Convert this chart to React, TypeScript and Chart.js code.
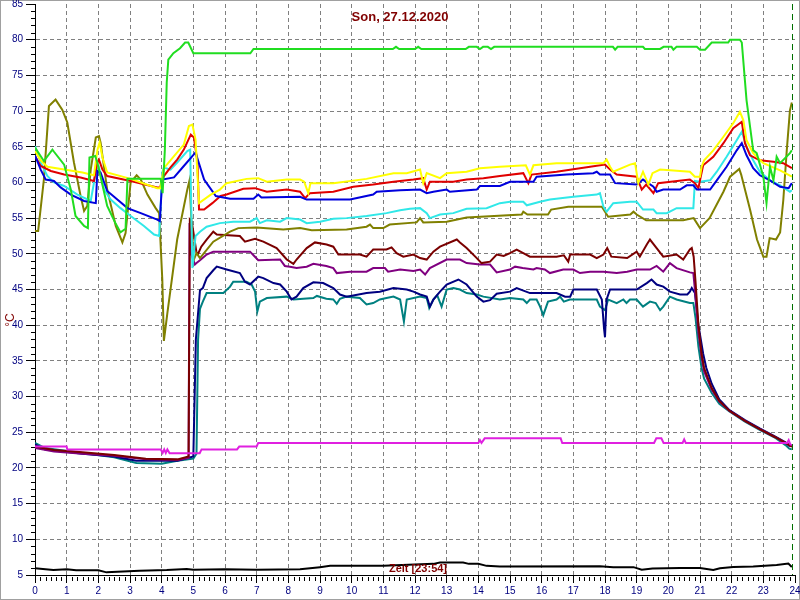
import React, { useEffect, useRef } from 'react';
import { Chart, registerables } from 'chart.js';

Chart.register(...registerables);

type Series = [number, number][];

const chartTitle = 'Son, 27.12.2020';
const xAxisLabel = 'Zeit [23:54]';
const yAxisLabel = '°C';
const nowHour = 23.9;

const xTickValues = [0, 1, 2, 3, 4, 5, 6, 7, 8, 9, 10, 11, 12, 13, 14, 15, 16, 17, 18, 19, 20, 21, 22, 23, 24];
const yTickValues = [5, 10, 15, 20, 25, 30, 35, 40, 45, 50, 55, 60, 65, 70, 75, 80, 85];

const greenSeries: Series = [
  [0, 64.9], [0.28, 63], [0.55, 64.6], [0.6, 64.3], [0.92, 62.5], [1.13, 59], [1.28, 55.3], [1.55, 53.9], [1.67, 53.6],
  [1.72, 63.5], [1.9, 63.7], [1.97, 62.8], [2.28, 56.7], [2.55, 54.2], [2.7, 53], [2.86, 53.5], [2.92, 60.5], [3.97, 60.5],
  [4.03, 58.5], [4.1, 64.5], [4.16, 74], [4.21, 77.2], [4.37, 78.1], [4.58, 78.8], [4.74, 79.6], [4.84, 79.6], [5.0, 78.1],
  [6.8, 78.1], [6.9, 78.7], [11.3, 78.7], [11.4, 79.0], [11.5, 78.7], [12.0, 78.7], [12.1, 79.0], [12.2, 78.7], [13.6, 78.7],
  [13.7, 79.0], [13.95, 79.0], [14.05, 78.7], [14.15, 79.0], [14.3, 79.0], [14.4, 78.7], [14.5, 79.0], [18.25, 79.0],
  [18.32, 78.6], [18.4, 79.0], [19.2, 79.0], [19.26, 78.7], [19.74, 78.7], [19.85, 79.0], [20.1, 79.0], [20.16, 78.6],
  [20.26, 79.0], [20.9, 79.0], [21.0, 78.6], [21.16, 78.6], [21.37, 79.6], [21.89, 79.6], [21.95, 80.0], [22.26, 80.0],
  [22.32, 79.6], [22.47, 71.5], [22.68, 64.5], [22.79, 64.1], [23.0, 60.8], [23.1, 57.1], [23.21, 62.2], [23.32, 60.3],
  [23.42, 63.6], [23.53, 62.7], [23.84, 64.1], [23.9, 64.5],
];

const oliveSeries: Series = [
  [0, 53.2], [0.1, 53.2], [0.28, 60.4], [0.44, 70.7], [0.65, 71.6], [0.86, 70.2], [1.02, 68.4], [1.23, 62.8], [1.44, 58.1],
  [1.55, 56], [1.65, 56.7], [1.76, 61.8], [1.92, 66.3], [2.02, 66.5], [2.07, 65.6], [2.28, 59], [2.55, 53.9], [2.76, 51.6],
  [2.86, 52.9], [3.02, 60], [3.21, 61], [3.34, 60.4], [3.55, 58.3], [3.81, 56.4], [3.92, 55.7], [4.02, 46.4], [4.07, 37.8],
  [4.18, 41.7], [4.49, 52], [4.81, 59], [4.88, 60.3], [5.0, 49], [5.1, 50.1], [5.21, 49.4], [5.63, 51.7], [6.16, 53.1],
  [6.42, 53.6], [7.0, 53.7], [7.84, 53.4], [8.37, 53.6], [8.74, 53.3], [9.84, 53.4], [10.47, 53.8], [10.58, 54.1],
  [10.68, 53.6], [11.0, 53.6], [11.2, 54.1], [12.05, 54.4], [12.16, 55], [12.26, 54.4], [13.0, 54.5], [13.63, 55.1],
  [15.37, 55.5], [15.42, 55.9], [15.55, 55.5], [16.2, 55.5], [16.3, 56.2], [16.84, 56.6], [17.9, 56.6], [18.1, 55.2],
  [18.8, 55.5], [18.9, 55.9], [19.0, 55.5], [19.3, 54.7], [20.47, 54.7], [20.8, 55], [21.0, 53.6], [21.3, 55], [21.74, 58.7],
  [21.95, 60.8], [22.24, 61.9], [22.3, 61.1], [22.58, 56.2], [22.8, 52], [23.0, 49.6], [23.1, 49.6], [23.2, 52.2],
  [23.4, 52], [23.53, 53], [23.63, 57.5], [23.74, 64.5], [23.84, 70.1], [23.9, 71.2],
];

const yellowSeries: Series = [
  [0, 64.4], [0.18, 63.1], [0.39, 62.2], [0.92, 61.8], [1.5, 61.4], [1.86, 61.0], [1.97, 64.5], [2.04, 65.6], [2.13, 63.5],
  [2.28, 61.4], [3.02, 60.5], [3.86, 59.2], [3.95, 59.2], [4.07, 62], [4.39, 63.7], [4.7, 65.3], [4.86, 67.9], [4.97, 68.1],
  [5.07, 66], [5.18, 57.1], [5.55, 58.3], [5.84, 59], [6.05, 59.9], [6.68, 60.5], [7.05, 60.6], [7.32, 60.1], [7.95, 60.4],
  [8.37, 60.4], [8.5, 60.1], [8.63, 58.5], [8.7, 59.9], [9.42, 59.9], [10.47, 60.5], [11.32, 61.3], [11.74, 61.3],
  [12.16, 61.8], [12.26, 59.9], [12.37, 61.3], [12.79, 60.6], [13.0, 61.3], [13.63, 61.5], [14.05, 62], [14.68, 62.2],
  [15.5, 62.4], [15.63, 61.1], [15.74, 62.4], [16.47, 62.7], [17.95, 62.7], [18.05, 63.2], [18.16, 62.2], [18.26, 61.5],
  [18.79, 62.5], [18.95, 62.7], [19.05, 59.9], [19.2, 61.5], [19.37, 59.7], [19.5, 61.3], [19.74, 61.8], [20.68, 61.5],
  [20.84, 60.8], [21.0, 60.8], [21.05, 62.2], [21.13, 63.1], [21.42, 64.5], [21.74, 66.4], [22.05, 68.3], [22.26, 69.9],
  [22.37, 68.7], [22.47, 65.9], [22.68, 64.1], [23.0, 62.7], [23.53, 61.7], [23.9, 60.8],
];

const redSeries: Series = [
  [0, 63.7], [0.18, 62.3], [0.5, 61.6], [0.92, 61.1], [1.44, 60.7], [1.86, 60.2], [1.97, 62.8], [2.02, 63.2], [2.13, 61.8],
  [2.28, 60.9], [3.02, 60.2], [3.86, 59.3], [3.95, 59.3], [4.07, 60.9], [4.28, 62.1], [4.49, 63.2], [4.7, 64.6], [4.92, 66.7],
  [5.02, 66.3], [5.13, 62.8], [5.18, 56.2], [5.34, 56.2], [5.6, 57.1], [5.86, 58.1], [6.05, 58.3], [6.58, 59.1], [6.95, 59.2],
  [7.32, 58.7], [7.95, 59], [8.37, 58.7], [8.53, 57.8], [8.68, 58.5], [9.42, 58.7], [10.05, 59.4], [10.68, 59.7],
  [11.32, 60.1], [11.95, 60.4], [12.26, 60.6], [12.37, 59], [12.47, 60.1], [13.21, 60.1], [13.63, 60.4], [14.16, 60.6],
  [14.68, 60.9], [15.42, 61.3], [15.58, 59.9], [15.68, 61.1], [16.47, 61.5], [17.53, 62.2], [18.0, 62.5], [18.16, 61.8],
  [18.37, 61.1], [19.0, 60.8], [19.16, 59], [19.3, 59.7], [19.53, 58.5], [19.68, 59.9], [20.68, 60.4], [20.84, 59.9],
  [20.95, 59.2], [21.0, 60.3], [21.1, 62.4], [21.42, 63.6], [21.74, 65.5], [22.05, 67.6], [22.32, 68.5], [22.42, 65.5],
  [22.58, 63.8], [22.89, 63.1], [23.32, 62.9], [23.63, 62.7], [23.9, 62.0],
];

const blueSeries: Series = [
  [0, 63.8], [0.18, 61.8], [0.34, 60.4], [0.6, 60.2], [0.81, 59.3], [1.13, 58.3], [1.55, 57.4], [1.92, 57.1], [1.97, 61.6],
  [2.07, 61.4], [2.28, 58.8], [2.6, 57.6], [2.92, 56.4], [3.34, 55.7], [3.86, 54.8], [3.94, 54.6], [4.02, 60.4], [4.39, 60.7],
  [4.7, 62.3], [5.07, 64.2], [5.34, 60.4], [5.71, 58.1], [6.16, 57.7], [6.9, 57.7], [7.05, 58.3], [7.15, 57.9], [8.37, 58],
  [8.58, 57.6], [9.95, 57.6], [10.68, 58.3], [10.79, 58.7], [11.53, 58.9], [12.16, 59], [12.37, 58.5], [12.58, 58.7],
  [13.0, 59], [13.1, 58.7], [13.95, 59], [14.05, 59.5], [14.68, 59.5], [15.0, 60.1], [15.74, 60.1], [15.84, 60.8],
  [16.79, 61.1], [17.63, 61.3], [17.74, 61.5], [17.84, 61.1], [18.16, 61.1], [18.32, 59.9], [19.0, 59.7], [19.2, 60.4],
  [19.53, 59.4], [19.63, 58.7], [19.84, 59], [20.37, 59], [20.58, 59.6], [20.79, 59.6], [20.9, 59], [21.32, 59],
  [21.53, 60.3], [21.84, 62.2], [22.16, 64.5], [22.32, 65.5], [22.47, 63.8], [22.68, 62], [22.89, 61], [23.21, 60.3],
  [23.53, 59.4], [23.8, 59.2], [23.9, 59.9],
];

const cyanSeries: Series = [
  [0, 65.1], [0.18, 62.8], [0.39, 60.9], [0.6, 60], [0.92, 59.5], [1.34, 58.3], [1.76, 57.4], [1.92, 61.4], [2.02, 62.1],
  [2.18, 59], [2.39, 57.6], [2.7, 56.4], [3.02, 55.3], [3.44, 53.9], [3.76, 52.7], [3.92, 52.5], [4.02, 61.4], [4.07, 62.1],
  [4.28, 61.8], [4.49, 62.8], [4.81, 64.4], [4.9, 64.6], [4.97, 48], [5.07, 52.5], [5.21, 53.1], [5.42, 53.8], [5.84, 54.3],
  [6.26, 54.5], [6.79, 54.5], [7.0, 55], [7.1, 54.3], [7.32, 54.7], [7.74, 54.5], [7.95, 55], [8.37, 54.8], [8.58, 54.3],
  [9.0, 54.5], [9.42, 54.9], [9.84, 55], [10.47, 55.3], [11.1, 55.7], [11.53, 56.1], [11.84, 56.3], [12.16, 56.4],
  [12.37, 55.7], [12.47, 55], [12.79, 55.5], [13.21, 55.7], [13.63, 56.3], [14.26, 56.4], [14.68, 57.1], [15.0, 57.3],
  [15.42, 57.3], [15.53, 56.8], [15.95, 57.3], [16.26, 57.6], [17.0, 58], [17.74, 58.3], [17.84, 58.5], [17.95, 56.6],
  [18.05, 55.9], [18.26, 57.1], [18.79, 57.3], [19.0, 57.3], [19.2, 56.2], [19.53, 56.2], [19.63, 55.7], [19.95, 55.7],
  [20.26, 56.4], [20.79, 56.4], [20.84, 60.2], [21.0, 60.1], [21.32, 60.3], [21.53, 61.5], [21.84, 63.6], [22.16, 65.9],
  [22.32, 67.1], [22.47, 65.0], [22.68, 63.1], [22.89, 61.5], [23.21, 60.3], [23.53, 59.6], [23.84, 58.7], [23.9, 58.9],
];

const maroonSeries: Series = [
  [0, 23.0], [0.6, 22.5], [1.5, 22.2], [2.5, 21.8], [3.5, 21.3], [4.5, 21.2], [4.85, 21.6], [4.89, 54.8], [4.95, 54.5],
  [5.1, 50.2], [5.15, 50.0], [5.25, 51], [5.42, 52], [5.63, 53.1], [5.74, 52.7], [6.47, 52.5], [6.63, 51.7], [6.95, 52.1],
  [7.21, 51.7], [7.63, 50.8], [7.95, 49.2], [8.16, 48.6], [8.26, 49.2], [8.58, 50.8], [8.84, 51.6], [9.21, 51.3], [9.42, 51],
  [9.58, 49.9], [10.26, 49.9], [10.47, 49.6], [10.68, 50.6], [11.1, 50.6], [11.26, 50.9], [11.42, 50.1], [11.63, 49.6],
  [11.95, 49.9], [12.16, 49.4], [12.37, 49.2], [12.58, 50.3], [12.79, 51], [13.32, 52], [13.42, 51.6], [13.63, 50.8],
  [13.95, 49.4], [14.1, 48.7], [14.37, 48.9], [14.58, 49.9], [14.8, 49.7], [15.0, 50.1], [15.21, 50.6], [15.42, 50.1],
  [15.63, 49.6], [16.47, 49.6], [16.7, 49.8], [16.84, 48.9], [16.9, 49.9], [17.53, 49.9], [17.74, 49.4], [17.95, 49.9],
  [18.07, 50.8], [18.2, 49.6], [18.7, 49.4], [19.0, 50.3], [19.1, 49.6], [19.32, 51.3], [19.42, 52], [19.63, 50.8],
  [19.84, 49.6], [20.26, 49.9], [20.47, 49.2], [20.68, 50.6], [20.74, 50.8], [20.8, 49.6], [20.86, 46], [20.95, 40],
  [21.05, 36], [21.13, 34], [21.37, 31.2], [21.61, 29.4], [21.93, 28], [22.42, 26.6], [22.9, 25.4], [23.38, 24.3],
  [23.7, 23.5], [23.9, 23.0],
];

const purpleSeries: Series = [
  [0, 22.8], [0.6, 22.3], [1.5, 22.0], [2.5, 21.7], [3.5, 21.2], [4.5, 21.1], [4.85, 21.4], [4.88, 54.3], [4.93, 50],
  [5.05, 48.5], [5.1, 48.7], [5.21, 49.1], [5.42, 49.9], [5.63, 50.3], [6.79, 50.3], [6.9, 49.8], [7.05, 49.1], [7.74, 49.2],
  [7.89, 48.3], [8.05, 48.2], [8.26, 48], [8.58, 48.2], [8.79, 48.6], [9.2, 48.3], [9.42, 48], [9.53, 47.3], [9.95, 47.5],
  [10.47, 47.5], [10.68, 48], [11.05, 48], [11.15, 47.5], [11.53, 47.8], [11.95, 47.6], [12.16, 47.8], [12.32, 47.1],
  [12.47, 48], [13.0, 49.2], [13.42, 49.2], [13.63, 48.7], [14.05, 48.5], [14.37, 48.5], [14.58, 47.4], [15.0, 47.8],
  [15.16, 48.2], [15.4, 48], [15.74, 47.8], [15.84, 48], [16.1, 47.8], [16.26, 47.3], [16.68, 47.8], [17.0, 47.8],
  [17.21, 47.3], [17.53, 47.5], [17.95, 47.5], [18.37, 47.3], [18.7, 47.5], [19.0, 47.8], [19.42, 47.8], [19.63, 48.3],
  [19.84, 47.5], [20.05, 48.7], [20.26, 48], [20.68, 47.4], [20.79, 47.3], [20.86, 44], [20.95, 39], [21.05, 35.5],
  [21.13, 33.5], [21.37, 31], [21.61, 29.3], [21.93, 28], [22.42, 26.6], [22.9, 25.4], [23.38, 24.3], [23.7, 23.5],
  [23.9, 23.0],
];

const navySeries: Series = [
  [0, 23.3], [0.3, 22.6], [1.5, 22.0], [2.5, 21.6], [3.2, 21.0], [4.5, 21.0], [5.0, 21.6], [5.08, 38], [5.21, 44.9],
  [5.3, 45.2], [5.42, 46.6], [5.63, 47.7], [5.74, 48.2], [6.05, 47.8], [6.47, 47.3], [6.63, 46.1], [6.79, 45.7],
  [7.05, 46.8], [7.21, 46.6], [7.53, 45.9], [7.74, 45.7], [7.95, 44.7], [8.1, 43.6], [8.26, 44], [8.47, 45.2], [8.79, 46],
  [9.1, 45.9], [9.42, 45.2], [9.63, 44.3], [9.84, 44], [10.47, 44.5], [10.89, 44.7], [11.32, 45.2], [11.74, 45],
  [11.95, 44.7], [12.16, 44.3], [12.37, 44], [12.47, 42.6], [12.58, 43.6], [12.79, 44.7], [13.0, 45.7], [13.37, 46.4],
  [13.63, 45.7], [13.95, 44], [14.16, 43.3], [14.37, 43.5], [14.58, 44.4], [15.0, 44.7], [15.21, 45.2], [15.63, 44.5],
  [16.47, 44.5], [16.74, 44], [16.9, 44], [17.0, 45], [17.74, 45], [17.9, 43.6], [17.97, 39.5], [18.0, 38.3], [18.05, 43.6],
  [18.16, 45], [19.0, 45], [19.32, 45.9], [19.47, 46.4], [19.63, 45.7], [19.84, 45.4], [20.05, 44.7], [20.37, 44.3],
  [20.6, 44.3], [20.68, 44.7], [20.74, 45.2], [20.84, 44.5], [20.95, 40], [21.1, 36], [21.2, 34], [21.37, 31.8],
  [21.61, 29.6], [21.93, 28.1], [22.42, 26.7], [22.9, 25.5], [23.38, 24.4], [23.7, 23.6], [23.82, 23.1], [23.9, 23.2],
];

const tealSeries: Series = [
  [0, 23.5], [0.3, 22.8], [1.5, 22.1], [2.5, 21.5], [3.2, 20.7], [4.0, 20.6], [4.5, 21.0], [5.0, 21.3], [5.1, 22],
  [5.15, 38], [5.21, 42.3], [5.3, 43.3], [5.42, 44.5], [5.95, 44.5], [6.16, 45.4], [6.26, 46.1], [6.68, 46.1], [6.84, 45.7],
  [6.95, 44.7], [7.02, 41.9], [7.1, 43.3], [7.32, 43.8], [7.95, 44], [8.16, 43.6], [8.79, 43.8], [8.9, 44.1], [9.2, 43.7],
  [9.42, 43.6], [9.53, 43], [9.63, 43.7], [9.84, 44], [10.26, 43.8], [10.47, 42.9], [10.68, 43.1], [10.89, 43.6],
  [11.1, 43.8], [11.32, 44], [11.53, 43.6], [11.65, 40.5], [11.74, 43.6], [12.16, 44], [12.37, 43.8], [12.45, 42.4],
  [12.58, 43.6], [12.7, 44.2], [12.84, 42.6], [13.0, 45], [13.21, 45.2], [13.42, 45], [13.63, 44.5], [13.95, 44.3],
  [14.16, 44], [14.68, 43.6], [15.0, 43.8], [15.42, 43.6], [15.53, 43.1], [15.63, 43.6], [15.84, 43.6], [15.95, 42.6],
  [16.05, 41.4], [16.2, 43.3], [16.47, 43.6], [16.58, 44], [16.7, 43.3], [16.89, 43.6], [17.74, 43.6], [17.84, 42.6],
  [18.0, 42.1], [18.1, 43.6], [18.37, 43.1], [18.58, 43.6], [18.68, 43.1], [18.79, 43.6], [19.0, 43.6], [19.2, 42.6],
  [19.42, 43.3], [19.6, 43.1], [19.74, 42.1], [19.84, 42.6], [20.05, 44], [20.26, 43.6], [20.68, 43.1], [20.79, 43.1],
  [20.86, 41], [20.95, 37], [21.05, 34], [21.13, 32.5], [21.37, 30.5], [21.61, 29.0], [21.93, 27.9], [22.42, 26.5],
  [22.9, 25.3], [23.38, 24.2], [23.7, 23.2], [23.82, 22.7], [23.9, 22.6],
];

const magentaSeries: Series = [
  [0, 23.0], [1.0, 23.0], [1.02, 22.6], [3.97, 22.6], [4.03, 22.1], [4.08, 22.6], [4.13, 22.1], [4.18, 22.6], [4.25, 22.05],
  [5.2, 22.05], [5.26, 22.6], [6.38, 22.6], [6.45, 23.0], [7.0, 23.0], [7.05, 23.5], [14.0, 23.5], [14.05, 23.9],
  [14.1, 23.5], [14.2, 24.15], [16.6, 24.15], [16.65, 23.5], [19.55, 23.5], [19.62, 24.15], [19.78, 24.15], [19.85, 23.5],
  [20.45, 23.5], [20.5, 24.0], [20.55, 23.5], [23.75, 23.5], [23.8, 23.9], [23.85, 23.3], [23.9, 23.2],
];

const blackSeries: Series = [
  [0, 5.93], [0.58, 5.7], [1.0, 5.8], [1.3, 5.65], [2.0, 5.65], [2.26, 5.37], [2.6, 5.45], [3.3, 5.6], [4.16, 5.7],
  [4.79, 5.85], [5.0, 5.75], [6.0, 5.8], [7.0, 5.75], [8.37, 5.8], [9.0, 6.1], [9.32, 6.28], [11.0, 6.28], [12.58, 6.56],
  [12.79, 6.74], [13.52, 6.74], [13.7, 6.56], [14.0, 6.56], [14.26, 6.28], [14.68, 6.18], [17.84, 6.23], [18.26, 6.1],
  [18.9, 6.1], [19.16, 5.75], [19.5, 5.9], [20.37, 5.98], [21.0, 5.98], [21.42, 5.7], [21.63, 5.95], [22.05, 6.13],
  [22.68, 6.2], [23.42, 6.4], [23.79, 6.6], [23.9, 6.13],
];

const seriesList: { data: Series; color: string }[] = [
  { data: blackSeries, color: '#000000' },
  { data: magentaSeries, color: '#e020e0' },
  { data: greenSeries, color: '#20dd20' },
  { data: yellowSeries, color: '#ffff00' },
  { data: blueSeries, color: '#0000dd' },
  { data: redSeries, color: '#e00000' },
  { data: cyanSeries, color: '#30e8e8' },
  { data: oliveSeries, color: '#808000' },
  { data: maroonSeries, color: '#7a0000' },
  { data: purpleSeries, color: '#800080' },
  { data: navySeries, color: '#000080' },
  { data: tealSeries, color: '#008080' },
];

const decorPlugin = {
  id: 'decor',
  beforeDraw(chart: any) {
    const { ctx, width, height } = chart;
    ctx.save();
    ctx.fillStyle = '#ffffff';
    ctx.fillRect(0, 0, width, height);
    ctx.strokeStyle = '#a0a0a0';
    ctx.lineWidth = 1;
    ctx.strokeRect(0.5, 0.5, width - 1, height - 1);
    ctx.restore();
  },
  afterDraw(chart: any) {
    const { ctx, chartArea, scales } = chart;
    const xs = scales.x;
    const ys = scales.y;
    ctx.save();
    ctx.strokeStyle = '#000000';
    ctx.lineWidth = 1;
    ctx.beginPath();
    for (let v = 5; v <= 85; v++) {
      if (v % 5 === 0) continue;
      const py = Math.round(ys.getPixelForValue(v)) + 0.5;
      ctx.moveTo(chartArea.left - 4, py);
      ctx.lineTo(chartArea.left, py);
    }
    for (let i = 0; i <= 144; i++) {
      if (i % 6 === 0) continue;
      const px = Math.round(xs.getPixelForValue(i / 6)) + 0.5;
      ctx.moveTo(px, chartArea.bottom + 2);
      ctx.lineTo(px, chartArea.bottom + 6);
    }
    ctx.stroke();
    const nx = Math.round(xs.getPixelForValue(nowHour)) + 0.5;
    ctx.strokeStyle = '#007000';
    ctx.setLineDash([6, 4]);
    ctx.beginPath();
    ctx.moveTo(nx, chartArea.top);
    ctx.lineTo(nx, chartArea.bottom);
    ctx.stroke();
    ctx.setLineDash([]);
    ctx.fillStyle = '#800000';
    ctx.textAlign = 'center';
    ctx.textBaseline = 'middle';
    ctx.font = 'bold 13px Arial, "Liberation Sans", sans-serif';
    ctx.fillText(chartTitle, 400, 17);
    ctx.font = 'bold 11px Arial, "Liberation Sans", sans-serif';
    ctx.fillText(xAxisLabel, 418, 569);
    ctx.translate(11, 320);
    ctx.rotate(-Math.PI / 2);
    ctx.font = '12px Arial, "Liberation Sans", sans-serif';
    ctx.fillText(yAxisLabel, 0, 0);
    ctx.restore();
  },
};

export default function App() {
  const canvasRef = useRef<HTMLCanvasElement | null>(null);

  useEffect(() => {
    const canvas = canvasRef.current;
    if (!canvas) return;
    const chart = new Chart(canvas, {
      type: 'line',
      data: {
        datasets: seriesList.map((s) => ({
          data: s.data.map(([x, y]) => ({ x, y })),
          borderColor: s.color,
          backgroundColor: s.color,
          borderWidth: 2,
          pointRadius: 0,
          tension: 0,
          fill: false,
        })),
      },
      options: {
        animation: false,
        responsive: false,
        devicePixelRatio: 1,
        layout: { padding: { left: 0, right: 5, top: 4, bottom: 0 } },
        plugins: {
          legend: { display: false },
          title: { display: false },
          tooltip: { enabled: false },
        },
        scales: {
          x: {
            type: 'linear',
            min: 0,
            max: 24,
            afterBuildTicks: (scale: any) => {
              scale.ticks = xTickValues.map((v) => ({ value: v }));
            },
            afterFit: (scale: any) => {
              scale.height = 25;
              scale.paddingLeft = 0;
              scale.paddingRight = 0;
            },
            ticks: {
              autoSkip: false,
              maxRotation: 0,
              padding: 2,
              color: '#000080',
              font: { family: 'Arial, "Liberation Sans", sans-serif', size: 10 },
            },
            grid: {
              color: (ctx: any) =>
                ctx.tick && (ctx.tick.value === 0 || ctx.tick.value === 24) ? 'rgba(0,0,0,0)' : '#808080',
              lineWidth: 1,
              tickLength: 8,
              tickColor: '#000000',
            },
            border: { display: true, color: '#000000', width: 1, dash: [4, 3] },
          },
          y: {
            type: 'linear',
            min: 5,
            max: 85,
            afterBuildTicks: (scale: any) => {
              scale.ticks = yTickValues.map((v) => ({ value: v }));
            },
            afterFit: (scale: any) => {
              scale.width = 35;
              scale.paddingTop = 0;
              scale.paddingBottom = 0;
            },
            ticks: {
              autoSkip: false,
              padding: 3,
              color: '#000080',
              font: { family: 'Arial, "Liberation Sans", sans-serif', size: 10 },
            },
            grid: {
              color: (ctx: any) =>
                ctx.tick && (ctx.tick.value === 5 || ctx.tick.value === 85) ? 'rgba(0,0,0,0)' : '#808080',
              lineWidth: 1,
              tickLength: 9,
              tickColor: '#000000',
            },
            border: { display: true, color: '#000000', width: 1, dash: [4, 3] },
          },
        },
      },
      plugins: [decorPlugin],
    } as any);
    return () => chart.destroy();
  }, []);

  return (
    <div style={{ width: 800, height: 600 }}>
      <style>{'body{margin:0}'}</style>
      <canvas ref={canvasRef} width={800} height={600} style={{ display: 'block', width: 800, height: 600 }} />
    </div>
  );
}
